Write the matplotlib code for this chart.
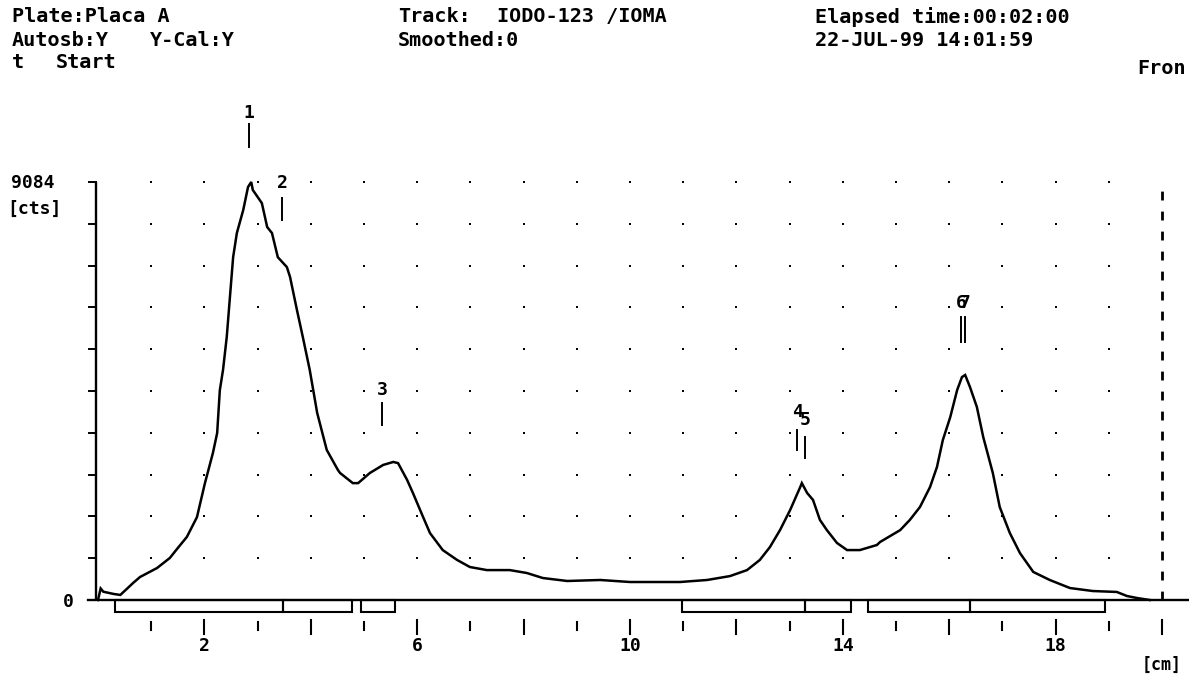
import matplotlib
matplotlib.use("Agg")
import matplotlib.pyplot as plt
from matplotlib.patches import Rectangle

# ---- radio-TLC scan: position along the plate [cm] vs counts ----
pos_cm = [0.0, 0.05, 0.1, 0.3, 0.42, 0.66, 0.79, 1.11, 1.35, 1.50, 1.67, 1.86,
          2.01, 2.16, 2.24, 2.29, 2.35, 2.42, 2.48, 2.54, 2.61, 2.73, 2.82,
          2.88, 2.91, 3.08, 3.18, 3.27, 3.38, 3.55, 3.61, 3.74, 3.85, 3.98,
          4.12, 4.30, 4.51, 4.55, 4.79, 4.89, 5.11, 5.36, 5.55, 5.64, 5.81,
          5.92, 6.11, 6.24, 6.48, 6.75, 6.99, 7.31, 7.74, 8.06, 8.36, 8.82,
          9.44, 10.0, 10.94, 11.45, 11.88, 12.20, 12.44, 12.63, 12.82, 13.01,
          13.20, 13.23, 13.33, 13.44, 13.57, 13.70, 13.89, 14.08, 14.32,
          14.64, 14.70, 15.08, 15.26, 15.45, 15.64, 15.77, 15.88, 16.02,
          16.15, 16.24, 16.30, 16.39, 16.52, 16.64, 16.82, 16.95, 17.14,
          17.33, 17.58, 17.89, 18.27, 18.70, 19.15, 19.34, 19.53, 19.77]
counts = [0, 250, 180, 130, 110, 370, 500, 695, 913, 1130, 1370, 1800,
          2540, 3195, 3630, 4560, 5000, 5715, 6585, 7450, 7975, 8475, 8975,
          9084, 8910, 8625, 8105, 7975, 7450, 7235, 7020, 6300, 5715, 5000,
          4065, 3260, 2825, 2760, 2540, 2540, 2760, 2935, 3000, 2975, 2610,
          2325, 1805, 1455, 1085, 870, 717, 650, 650, 587, 478, 413,
          435, 391, 391, 435, 520, 650, 870, 1150, 1520, 1955,
          2455, 2540, 2325, 2175, 1740, 1520, 1240, 1085, 1085,
          1195, 1260, 1520, 1740, 2020, 2455, 2890, 3475, 3975,
          4565, 4845, 4890, 4630, 4195, 3540, 2760, 2020, 1455,
          1020, 610, 435, 260, 195, 175, 87, 43, 0]

y_max = 9084
front_cm = 20

# peak numbers, their marker positions and the height of the number label
peak_labels = ["1", "2", "3", "4", "5", "6", "7"]
peak_pos = [2.84, 3.46, 5.34, 13.14, 13.29, 16.22, 16.30]
peak_label_y = [10580, 9060, 4560, 4085, 3910, 6450, 6450]
peak_line = [(9840, 10340), (8260, 8740), (3800, 4280), (3260, 3690),
             (3090, 3540), (5610, 6150), (5610, 6150)]

# integration regions under the baseline [cm]
regions = [(0.32, 3.48), (3.48, 4.77), (4.94, 5.58), (10.98, 13.29),
           (13.29, 14.15), (14.47, 16.39), (16.39, 18.93)]

x_ticks = list(range(1, 21))
x_tick_labels = {2: "2", 6: "6", 10: "10", 14: "14", 18: "18"}
y_grid_frac = [0.1 * i for i in range(1, 11)]

W, H = 1189, 677
fig = plt.figure(figsize=(W / 100, H / 100), dpi=100)
ax = fig.add_axes([0, 0, 1, 1])
ax.set_axis_off()

# pixel-consistent scale: 53.2 px per cm, 0 cm at x=98 px, baseline at y=600 px
px_per_cm = 53.2
cts_per_px = y_max / 418.0
ax.set_xlim(-98 / px_per_cm, (W - 98) / px_per_cm)
ax.set_ylim((600 - H) * cts_per_px, 600 * cts_per_px)

mono = "DejaVu Sans Mono"
ink = "black"

# dotted grid
for f in y_grid_frac:
    ax.plot(list(range(1, front_cm)), [f * y_max] * (front_cm - 1), ls="none",
            marker="s", ms=1.7, color=ink, mew=0)

# axes
ax.plot([-0.04, -0.04], [0, y_max], color=ink, lw=1.7, solid_capstyle="butt")
ax.plot([-0.19, (W - 98) / px_per_cm], [0, 0], color=ink, lw=1.7)
for f in y_grid_frac:
    ax.plot([-0.17, -0.04], [f * y_max] * 2, color=ink, lw=1.4)

# solvent front
ax.plot([front_cm, front_cm], [0, y_max * 1.005], color=ink, lw=2,
        ls=(0, (3.2, 4)))

# x ticks below the region boxes
for t in x_ticks:
    if t % 2 == 0:
        y0, y1 = -735, -440
    else:
        y0, y1 = -660, -480
    ax.plot([t, t], [y0, y1], color=ink, lw=1.5)
    if t in x_tick_labels:
        ax.text(t, -1000, x_tick_labels[t], ha="center", va="center",
                family=mono, fontsize=13, fontweight="bold")

# integration region boxes
for a, b in regions:
    ax.add_patch(Rectangle((a, -250), b - a, 250, fill=False, ec=ink, lw=1.5))

# scan trace
ax.plot(pos_cm, counts, color=ink, lw=1.8, solid_joinstyle="miter")

# peak markers
for lab, p, ly, (l0, l1) in zip(peak_labels, peak_pos, peak_label_y, peak_line):
    ax.plot([p, p], [l0, l1], color=ink, lw=1.4)
    ax.text(p, ly, lab, ha="center", va="center", family=mono,
            fontsize=13, fontweight="bold")

# axis captions
def ftext(px, py, s, ha="left", size=14.5):
    fig.text(px / W, 1 - py / H, s, ha=ha, va="center", family=mono,
             fontsize=size, fontweight="bold")

ftext(33, 183, "9084", ha="center", size=13)
ftext(34, 209, "[cts]", ha="center", size=13)
ftext(68, 602, "0", ha="center", size=13)
ftext(1162, 665, "[cm]", ha="center", size=12)

# header
ftext(12, 17, "Plate:Placa A")
ftext(12, 40, "Autosb:Y")
ftext(150, 40, "Y-Cal:Y")
ftext(12, 62, "t")
ftext(56, 62, "Start")
ftext(398, 17, "Track:")
ftext(497, 17, "IODO-123 /IOMA")
ftext(398, 40, "Smoothed:0")
ftext(815, 17, "Elapsed time:00:02:00")
ftext(815, 40, "22-JUL-99 14:01:59")
ftext(1186, 68, "Fron", ha="right")

fig.savefig("out.png", dpi=100)
